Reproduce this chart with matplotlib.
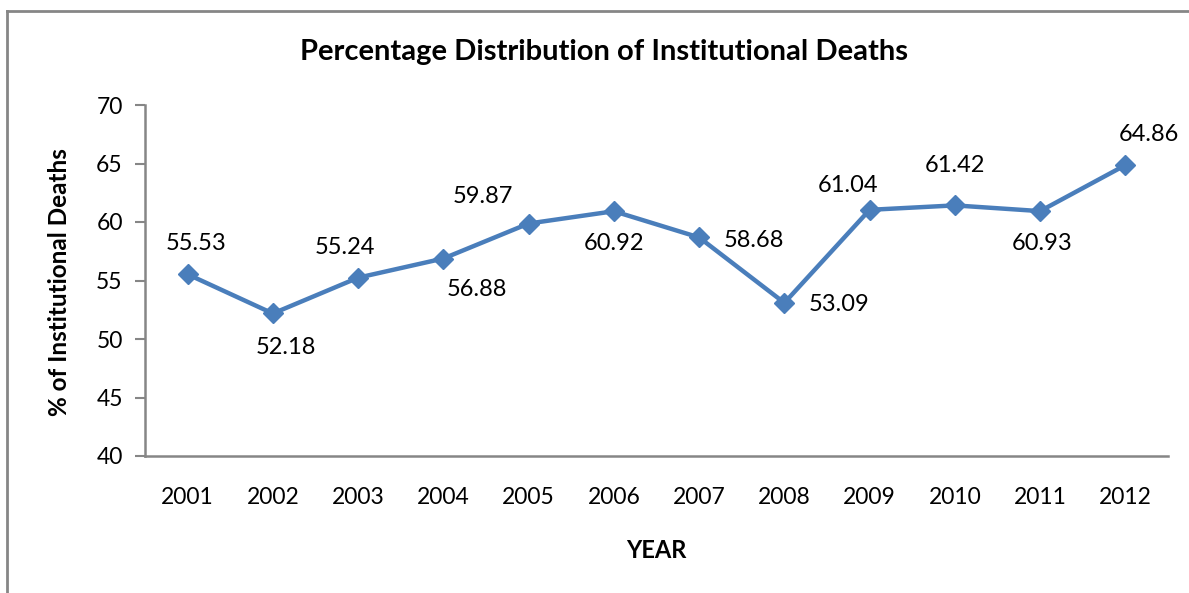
import matplotlib.pyplot as plt
from matplotlib.lines import Line2D

years = ['2001', '2002', '2003', '2004', '2005', '2006',
         '2007', '2008', '2009', '2010', '2011', '2012']
deaths = [55.53, 52.18, 55.24, 56.88, 59.87, 60.92,
          58.68, 53.09, 61.04, 61.42, 60.93, 64.86]
# label offsets in pixels (dx, dy) as placed in the original chart
offsets = [(8, 31), (13, -34), (-13, 30), (33, -31), (-46, 27), (0, -32),
           (55, -3), (55, -2), (-22, 24), (0, 40), (2, -32), (24, 31)]

plt.rcParams['font.family'] = ['Lato', 'DejaVu Sans']

fig = plt.figure(figsize=(11.89, 5.93), dpi=100)
ax = fig.add_axes([145 / 1189, 1 - 456 / 593, (1168 - 145) / 1189, (456 - 105) / 593])

x = list(range(len(years)))
ax.plot(x, deaths, color='#4A7EBB', lw=3.2, marker='D', markersize=10,
        markerfacecolor='#4A7EBB', markeredgecolor='#4A7EBB', solid_joinstyle='round')

for xi, v, (dx, dy) in zip(x, deaths, offsets):
    ax.annotate(f'{v:.2f}', (xi, v), xytext=(dx, dy), textcoords='offset pixels',
                ha='center', va='center', fontsize=17, color='black')

ax.set_xlim(-0.5, len(years) - 0.5)
ax.set_ylim(40, 70)
ax.set_yticks(range(40, 71, 5))
ax.set_xticks(x)
ax.set_xticklabels(years)
ax.tick_params(axis='x', length=0, pad=22, labelsize=16.5)
ax.tick_params(axis='y', length=7, width=1.5, color='#868686', pad=9, labelsize=16.5)

for s in ['top', 'right']:
    ax.spines[s].set_visible(False)
for s in ['left', 'bottom']:
    ax.spines[s].set_color('#868686')
    ax.spines[s].set_linewidth(1.8)

fig.text(0.508, 1 - 52 / 593, 'Percentage Distribution of Institutional Deaths',
         ha='center', va='center', fontsize=21, fontweight='bold')
fig.text(60 / 1189, 1 - 282 / 593, '% of Institutional Deaths', rotation=90,
         ha='center', va='center', fontsize=17.5, fontweight='bold')
fig.text(656 / 1189, 1 - 550 / 593, 'YEAR', ha='center', va='center',
         fontsize=17, fontweight='bold')

# chart frame (only left and top edges visible)
fig.add_artist(Line2D([7 / 1189, 7 / 1189], [0, 1 - 11 / 593],
                      transform=fig.transFigure, color='#868686', lw=2))
fig.add_artist(Line2D([7 / 1189, 1], [1 - 11 / 593, 1 - 11 / 593],
                      transform=fig.transFigure, color='#868686', lw=2))

fig.savefig('out.png', dpi=100)
